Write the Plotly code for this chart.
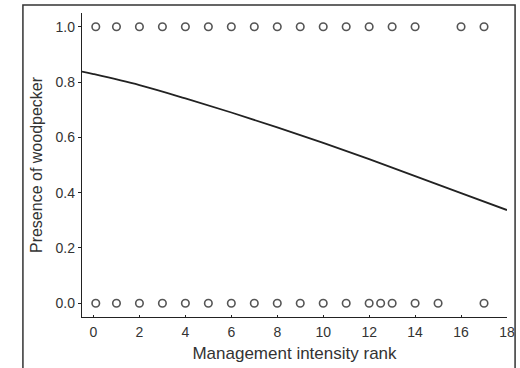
import plotly.graph_objects as go

# observed presence (1) / absence (0) by management intensity rank
present_rank = [0.1, 1, 2, 3, 4, 5, 6, 7, 8, 9, 10, 11, 12, 13, 14, 16, 17]
absent_rank = [0.1, 1, 2, 3, 4, 5, 6, 7, 8, 9, 10, 11, 12, 12.5, 13, 14, 15, 17]

# fitted logistic curve
fit_rank = [-0.5, 0, 2, 4, 6, 8, 10, 12, 14, 16, 18]
fit_prob = [0.838, 0.829, 0.789, 0.741, 0.690, 0.636, 0.580, 0.521, 0.460, 0.398, 0.337]

y_ticks = [0.0, 0.2, 0.4, 0.6, 0.8, 1.0]
x_ticks = [0, 2, 4, 6, 8, 10, 12, 14, 16, 18]

font = dict(family="Liberation Sans, Arial, sans-serif", size=14, color="#333")
marker = dict(symbol="circle-open", size=7.5, color="#555", line=dict(width=1.6, color="#555"))

fig = go.Figure()

fig.add_trace(go.Scatter(x=present_rank, y=[1.0] * len(present_rank),
                         mode="markers", marker=marker))
fig.add_trace(go.Scatter(x=absent_rank, y=[0.0] * len(absent_rank),
                         mode="markers", marker=marker))
fig.add_trace(go.Scatter(x=fit_rank, y=fit_prob, mode="lines",
                         line=dict(color="#222", width=1.8, shape="spline")))

fig.update_layout(
    width=520, height=368, autosize=False,
    margin=dict(l=82, r=13, t=13, b=51, autoexpand=False),
    paper_bgcolor="white", plot_bgcolor="white",
    showlegend=False, font=font,
    xaxis=dict(
        range=[-0.5, 18], tickvals=x_ticks, ticks="inside", ticklen=2,
        tickcolor="#222", showline=True, linecolor="#222", linewidth=1.3,
        showgrid=False, zeroline=False, tickfont=dict(size=14), automargin=False,
        ticklabelstandoff=2,
        title=dict(text="Management intensity rank", font=dict(size=17), standoff=8),
    ),
    yaxis=dict(
        range=[-0.05, 1.05], tickvals=y_ticks, tickformat=".1f",
        ticks="outside", ticklen=3, tickcolor="#222",
        showline=True, linecolor="#222", linewidth=1.3,
        showgrid=False, zeroline=False, tickfont=dict(size=14), automargin=False,
        title=dict(text="Presence of woodpecker", font=dict(size=16), standoff=8),
    ),
)

# outer frame around the figure
fig.add_shape(type="rect", xref="paper", yref="paper",
              x0=-0.139, x1=1.019, y0=-0.4, y1=1.026,
              line=dict(color="#333", width=1.5))

# drop the browser's default page margin so the figure sits at the window corner
fig.write_html(
    "out.html",
    config={"responsive": False, "displayModeBar": False},
    post_script="document.body.style.margin='0';"
                "document.documentElement.style.overflow='hidden';",
)
